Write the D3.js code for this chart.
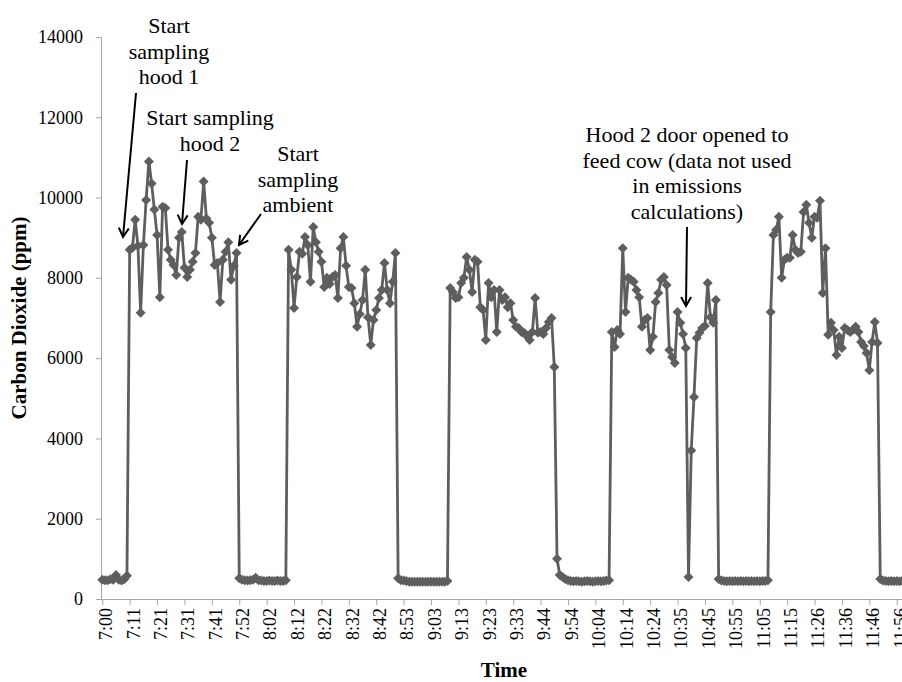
<!DOCTYPE html>
<html>
<head>
<meta charset="utf-8">
<script src="https://cdn.jsdelivr.net/npm/d3@7"></script>
<style>
  html, body { margin: 0; padding: 0; background: #fff; }
  svg { display: block; }
  text { font-family: "Liberation Serif", "Times New Roman", serif; }
</style>
</head>
<body>
<svg id="chart" width="902" height="682"></svg>
<script>
// ---- Data (CO2 ppm, one reading per ~1 min, 10 readings per tick label) ----
const base1 = [480, 470, 470, 490, 480, 600, 480, 460, 490, 580];
const hood1 = [8700, 8750, 9450, 8800, 7130, 8820, 9940, 10900, 10350, 9700,
               9070, 7520, 9770, 9740, 8700, 8450, 8320, 8070, 9000, 9140,
               8250, 8020, 8200, 8400, 8620, 9520, 9450, 10400, 9480, 9370,
               9000, 8320, 8370, 7400, 8450, 8650, 8890, 7950, 8300, 8620];
const base2 = [520, 480, 470, 460, 470, 480, 530, 470, 460, 450, 450, 460, 450, 450, 460, 450, 450, 470];
const hood2 = [8700, 8200, 7250, 8020, 8650, 8600, 9020, 8820, 7900, 9270,
               8890, 8650, 8400, 7770, 8000, 7850, 8020, 8070, 7500, 8740,
               9020, 8300, 7770, 7750, 7370, 6780, 7100, 7450, 8200, 7020,
               6330, 6950, 7200, 7500, 7700, 8370, 7700, 7370, 7900, 8620];
const base3 = [520, 470, 460, 450, 430, 430, 430, 430, 430, 430, 430, 430, 430, 430, 430, 430, 430, 430, 450];
const hood3 = [7750, 7650, 7500, 7520, 7870, 8000, 8520, 8200, 7650, 8450,
               8400, 7270, 7200, 6450, 7870, 7520, 7700, 6650, 7700, 7450,
               7520, 7270, 7370, 6950, 6780, 6750, 6650, 6630, 6550, 6450,
               6650, 7500, 6630, 6650, 6600, 6750, 6900, 7000, 5780];
const base4 = [1000, 600, 550, 500, 470, 450, 440, 450, 440, 430, 440, 450, 440, 430, 440, 450, 440, 450, 460, 470];
const hood4 = [6650, 6280, 6700, 6600, 8740, 7150, 8000, 7950, 7900, 7700,
               7520, 6780, 6950, 7000, 6200, 6530, 7400, 7620, 7950, 8020,
               7820, 6200, 6030, 5880, 7150, 6880, 6600, 6250, 550, 3700,
               5030, 6500, 6630, 6750, 6800, 7870, 7020, 6880, 7450];
const base5 = [500, 460, 450, 440, 450, 440, 450, 440, 450, 440, 450, 440, 450, 440, 450, 440, 450, 450, 470];
const hood5 = [7150, 9070, 9200, 9520, 8000, 8450, 8500, 8500, 9070, 8700,
               8620, 8650, 9640, 9820, 9370, 9000, 9520, 9500, 9920, 7620,
               8740, 6580, 6880, 6700, 6080, 6530, 6250, 6750, 6700, 6650,
               6700, 6780, 6650, 6400, 6300, 6130, 5700, 6400, 6900, 6380];
const base6 = [500, 460, 450, 440, 450, 440, 450, 440, 450, 440];

const timeLabels = ["7:00","7:11","7:21","7:31","7:41","7:52","8:02","8:12","8:22","8:32",
                    "8:42","8:53","9:03","9:13","9:23","9:33","9:44","9:54","10:04","10:14",
                    "10:24","10:35","10:45","10:55","11:05","11:15","11:26","11:36","11:46","11:56"];
const yTicks = [0, 2000, 4000, 6000, 8000, 10000, 12000, 14000];

const annotations = [
  { lines: ["Start", "sampling", "hood 1"], cx: 169, y0: 33, arrow: [136, 93, 123, 237] },
  { lines: ["Start sampling", "hood 2"], cx: 210, y0: 125, arrow: [187, 160, 182, 224] },
  { lines: ["Start", "sampling", "ambient"], cx: 298, y0: 161, arrow: [261, 214, 239, 245] },
  { lines: ["Hood 2 door opened to", "feed cow (data not used", "in emissions", "calculations)"], cx: 687, y0: 142, arrow: [687, 227, 686, 306] }
];

// ---- Build series ----
const co2 = [].concat(base1, hood1, base2, hood2, base3, hood3, base4, hood4, base5, hood5, base6);
const points = co2.map((v, i) => ({ i, v }));

const svg = d3.select("#chart");
const plotLeft = 101, plotRight = 896.7, plotTop = 37, plotBottom = 599;

const x = d3.scaleLinear().domain([0, 290]).range([102.3, plotRight]);
const y = d3.scaleLinear().domain([0, 14000]).range([plotBottom, plotTop]);

const axisColor = "#a6a6a6";

// Y axis
const yAxis = d3.axisLeft(y).tickValues(yTicks).tickSize(5).tickPadding(13).tickFormat(d3.format("d"));
const gy = svg.append("g").attr("transform", `translate(${plotLeft},0)`).call(yAxis);
gy.select(".domain").attr("stroke", axisColor);
gy.selectAll(".tick line").attr("stroke", axisColor);
gy.selectAll(".tick text").attr("font-size", 18).attr("fill", "#000")
  .attr("font-family", "Liberation Serif, serif");

// X axis
const xAxis = d3.axisBottom(x).tickValues(d3.range(0, 300, 10)).tickSize(6)
  .tickFormat((d, k) => timeLabels[k]);
const gx = svg.append("g").attr("transform", `translate(0,${plotBottom})`).call(xAxis);
gx.select(".domain").attr("stroke", axisColor).attr("d", `M${plotLeft},0.5H902`);
gx.selectAll(".tick line").attr("stroke", axisColor);
gx.selectAll(".tick text")
  .attr("font-size", 18).attr("fill", "#000").attr("font-family", "Liberation Serif, serif")
  .attr("text-anchor", "end")
  .attr("transform", "rotate(-90)")
  .attr("x", -9).attr("y", 3).attr("dy", "0.35em");

// Series line
const line = d3.line().x(d => x(d.i)).y(d => y(d.v));
svg.append("path").datum(points)
  .attr("fill", "none").attr("stroke", "#5e5e5e").attr("stroke-width", 2.8)
  .attr("stroke-linejoin", "round").attr("d", line);

// Diamond markers
const r = 5;
svg.append("g").selectAll("path").data(points).join("path")
  .attr("d", `M0,${-r}L${r},0L0,${r}L${-r},0Z`)
  .attr("transform", d => `translate(${x(d.i)},${y(d.v)})`)
  .attr("fill", "#5e5e5e");

// Axis titles
svg.append("text").attr("transform", `translate(26,${(plotTop + plotBottom) / 2}) rotate(-90)`)
  .attr("text-anchor", "middle").attr("font-size", 21).attr("font-weight", "bold")
  .attr("fill", "#000").text("Carbon Dioxide (ppm)");
svg.append("text").attr("x", 504).attr("y", 677)
  .attr("text-anchor", "middle").attr("font-size", 21).attr("font-weight", "bold")
  .attr("fill", "#000").text("Time");

// Annotations
const defs = svg.append("defs");
defs.append("marker").attr("id", "arrowhead").attr("viewBox", "0 0 12 12")
  .attr("refX", 10).attr("refY", 6).attr("markerWidth", 12).attr("markerHeight", 12)
  .attr("markerUnits", "userSpaceOnUse").attr("orient", "auto")
  .append("path").attr("d", "M1,1 L10,6 L1,11").attr("fill", "none")
  .attr("stroke", "#000").attr("stroke-width", 2);

annotations.forEach(a => {
  const t = svg.append("text").attr("font-size", 22).attr("fill", "#000").attr("text-anchor", "middle");
  a.lines.forEach((ln, k) => {
    t.append("tspan").attr("x", a.cx).attr("y", a.y0 + k * 25.7).text(ln);
  });
  svg.append("line")
    .attr("x1", a.arrow[0]).attr("y1", a.arrow[1]).attr("x2", a.arrow[2]).attr("y2", a.arrow[3])
    .attr("stroke", "#000").attr("stroke-width", 2).attr("marker-end", "url(#arrowhead)");
});
</script>
</body>
</html>
